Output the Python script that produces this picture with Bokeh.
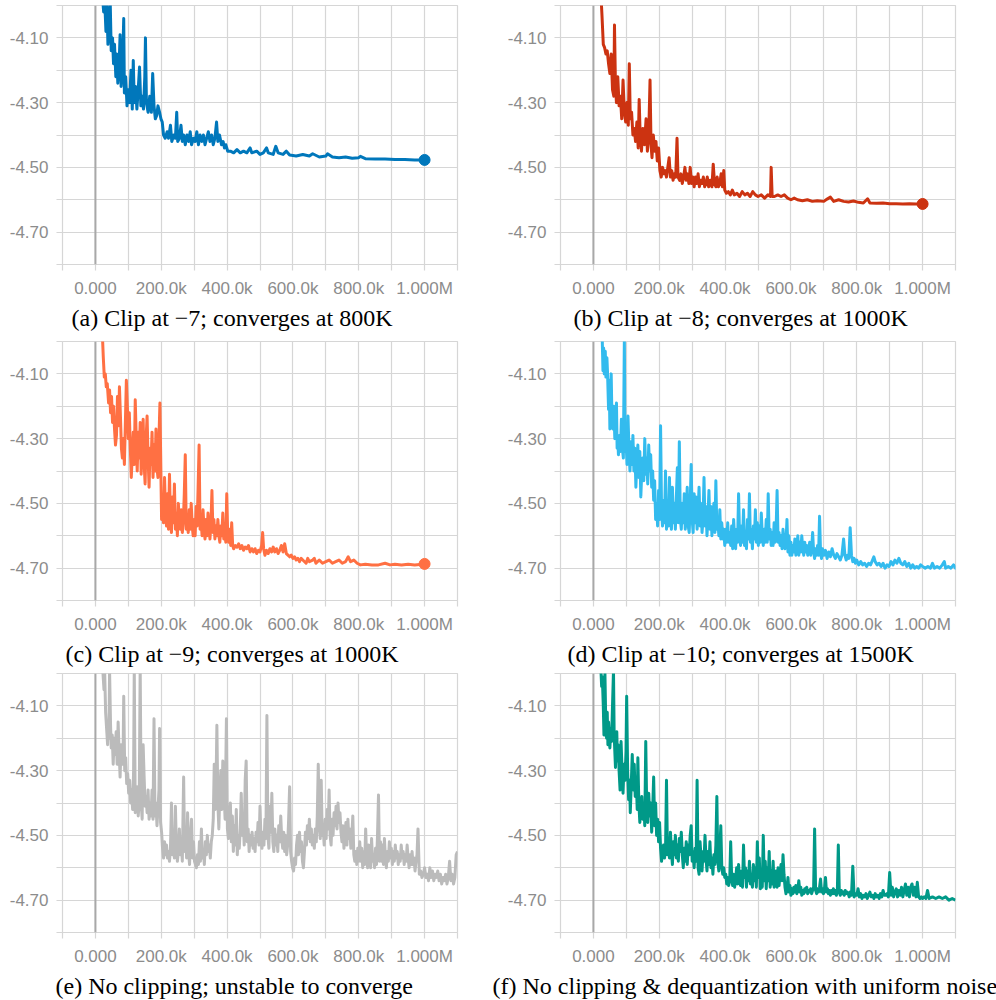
from bokeh.plotting import figure
from bokeh.layouts import gridplot
from bokeh.models import FixedTicker, NumeralTickFormatter, Span, Range1d, Title
from bokeh.embed import file_html
from bokeh.resources import INLINE

# ---------------- data (step in thousands, loss value) ----------------
x_ticks = [0, 200, 400, 600, 800, 1000]
x_tick_labels = ["0.000", "200.0k", "400.0k", "600.0k", "800.0k", "1.000M"]
x_minor_ticks = [-100, 100, 300, 500, 700, 900, 1100]
y_ticks = [-4.1, -4.3, -4.5, -4.7]
y_minor_ticks = [-4.0, -4.2, -4.4, -4.6, -4.8]

captions = [
    "(a) Clip at \u22127; converges at 800K",
    "(b) Clip at \u22128; converges at 1000K",
    "(c) Clip at \u22129; converges at 1000K",
    "(d) Clip at \u221210; converges at 1500K",
    "(e) No clipping; unstable to converge",
    "(f) No clipping & dequantization with uniform noise",
]
colors = ["#0077bb", "#cc3311", "#ff7043", "#33bbee", "#bbbbbb", "#009988"]
end_marker = [True, True, True, False, False, False]

run_a = [
    (20, -3.95), (25, -4.02), (28, -3.98), (32, -4.08), (35, -4.00), (38, -4.12), (42, -4.05),
    (45, -3.99), (48, -4.14), (52, -4.10), (55, -4.18), (58, -4.12), (62, -4.22), (65, -4.15),
    (68, -4.24), (72, -4.18), (75, -4.09), (78, -4.25), (82, -4.20), (86, -4.04), (88, -4.27),
    (92, -4.22), (96, -4.31), (100, -4.26), (104, -4.30), (108, -4.20), (112, -4.32), (115, -4.17),
    (118, -4.30), (122, -4.25), (126, -4.32), (130, -4.26), (134, -4.19), (138, -4.31), (142, -4.28),
    (146, -4.32), (150, -4.22), (152, -4.10), (155, -4.30), (160, -4.33), (165, -4.28), (170, -4.33),
    (174, -4.21), (178, -4.31), (182, -4.35), (186, -4.34), (190, -4.31), (195, -4.33), (199, -4.35),
    (203, -4.36), (207, -4.40), (212, -4.41), (218, -4.39), (222, -4.41), (228, -4.37), (232, -4.42),
    (238, -4.40), (243, -4.41), (247, -4.33), (250, -4.42), (255, -4.41), (260, -4.37), (264, -4.42),
    (268, -4.40), (273, -4.43), (278, -4.40), (283, -4.42), (288, -4.39), (292, -4.43), (298, -4.41),
    (303, -4.42), (308, -4.39), (313, -4.43), (318, -4.40), (323, -4.42), (328, -4.40), (333, -4.43),
    (338, -4.41), (343, -4.39), (348, -4.42), (353, -4.40), (358, -4.43), (363, -4.41), (368, -4.36),
    (372, -4.42), (377, -4.40), (383, -4.43), (388, -4.42), (392, -4.44), (396, -4.43), (402, -4.45),
    (410, -4.45), (420, -4.455), (430, -4.445), (440, -4.455), (450, -4.45), (460, -4.455),
    (470, -4.44), (475, -4.455), (490, -4.45), (500, -4.46), (510, -4.455), (520, -4.44),
    (525, -4.455), (540, -4.46), (548, -4.435), (555, -4.455), (570, -4.46), (580, -4.45),
    (590, -4.462), (610, -4.465), (630, -4.46), (650, -4.465), (660, -4.458), (680, -4.468),
    (700, -4.465), (705, -4.458), (720, -4.468), (740, -4.47), (760, -4.468), (780, -4.472),
    (800, -4.47), (805, -4.466), (820, -4.473), (850, -4.474), (880, -4.474), (910, -4.476),
    (940, -4.476), (970, -4.477), (1000, -4.477),
]

run_b = [
    (22, -3.95), (26, -4.03), (30, -4.12), (34, -4.13), (38, -4.15), (42, -4.14), (46, -4.18),
    (50, -4.21), (54, -4.15), (58, -4.26), (62, -4.28), (64, -4.06), (67, -4.25), (70, -4.30),
    (74, -4.22), (78, -4.31), (82, -4.28), (86, -4.35), (90, -4.23), (94, -4.33), (98, -4.36),
    (102, -4.30), (106, -4.37), (109, -4.18), (112, -4.35), (116, -4.33), (120, -4.40), (124, -4.38),
    (128, -4.42), (132, -4.36), (136, -4.44), (139, -4.29), (142, -4.40), (146, -4.45), (150, -4.38),
    (155, -4.43), (160, -4.35), (164, -4.45), (168, -4.40), (172, -4.23), (175, -4.43), (178, -4.47),
    (182, -4.40), (186, -4.45), (190, -4.42), (194, -4.48), (198, -4.44), (202, -4.51), (206, -4.53),
    (210, -4.50), (214, -4.52), (218, -4.51), (222, -4.53), (226, -4.50), (230, -4.47), (234, -4.53),
    (238, -4.51), (242, -4.54), (246, -4.52), (250, -4.53), (254, -4.41), (257, -4.53), (262, -4.54),
    (266, -4.52), (270, -4.55), (274, -4.53), (278, -4.50), (282, -4.54), (286, -4.52), (290, -4.55),
    (294, -4.50), (298, -4.55), (302, -4.53), (306, -4.56), (310, -4.53), (314, -4.55), (318, -4.52),
    (322, -4.56), (326, -4.54), (330, -4.55), (334, -4.53), (338, -4.56), (342, -4.55), (346, -4.53),
    (350, -4.56), (355, -4.54), (360, -4.56), (364, -4.49), (368, -4.55), (372, -4.56), (376, -4.53),
    (380, -4.56), (384, -4.55), (388, -4.52), (392, -4.56), (396, -4.51), (399, -4.57), (404, -4.58),
    (410, -4.575), (416, -4.585), (422, -4.57), (428, -4.585), (436, -4.58), (444, -4.59),
    (452, -4.575), (460, -4.585), (468, -4.58), (476, -4.59), (484, -4.575), (492, -4.585),
    (500, -4.59), (510, -4.585), (520, -4.595), (530, -4.585), (538, -4.59), (540, -4.50),
    (543, -4.59), (550, -4.59), (560, -4.585), (570, -4.59), (580, -4.585), (590, -4.595),
    (600, -4.60), (610, -4.595), (620, -4.60), (635, -4.603), (650, -4.60), (665, -4.605),
    (680, -4.603), (700, -4.605), (710, -4.598), (720, -4.592), (730, -4.605), (745, -4.60),
    (760, -4.605), (775, -4.607), (790, -4.604), (805, -4.608), (820, -4.61), (833, -4.597),
    (840, -4.61), (860, -4.611), (880, -4.61), (900, -4.612), (920, -4.612), (940, -4.613),
    (960, -4.612), (980, -4.613), (1000, -4.613),
]

run_c = [
    (20, -3.95), (24, -4.05), (27, -4.11), (30, -4.10), (33, -4.14), (36, -4.13), (40, -4.19),
    (43, -4.15), (46, -4.22), (49, -4.17), (52, -4.25), (55, -4.20), (58, -4.27), (61, -4.32),
    (64, -4.29), (67, -4.17), (70, -4.26), (73, -4.14), (76, -4.23), (79, -4.33), (82, -4.36),
    (85, -4.30), (88, -4.38), (91, -4.25), (94, -4.12), (97, -4.20), (100, -4.30), (103, -4.22),
    (106, -4.33), (109, -4.42), (112, -4.35), (115, -4.28), (118, -4.38), (121, -4.18), (124, -4.30),
    (127, -4.40), (130, -4.28), (133, -4.36), (136, -4.25), (139, -4.41), (142, -4.32), (145, -4.24),
    (148, -4.38), (151, -4.44), (154, -4.30), (157, -4.23), (160, -4.36), (163, -4.45), (166, -4.33),
    (169, -4.38), (172, -4.28), (175, -4.42), (178, -4.32), (181, -4.40), (184, -4.27), (187, -4.39),
    (190, -4.42), (193, -4.30), (196, -4.19), (199, -4.41), (201, -4.55), (204, -4.50), (207, -4.56),
    (210, -4.42), (213, -4.53), (216, -4.57), (219, -4.47), (222, -4.58), (225, -4.41), (228, -4.55),
    (231, -4.59), (234, -4.48), (237, -4.56), (240, -4.44), (243, -4.58), (246, -4.53), (249, -4.60),
    (252, -4.50), (255, -4.57), (258, -4.58), (261, -4.52), (264, -4.59), (267, -4.56), (270, -4.47),
    (273, -4.35), (276, -4.58), (279, -4.55), (282, -4.59), (285, -4.52), (288, -4.58), (291, -4.50),
    (294, -4.57), (297, -4.60), (300, -4.55), (303, -4.60), (306, -4.51), (309, -4.57), (312, -4.45),
    (315, -4.32), (318, -4.58), (321, -4.55), (324, -4.60), (327, -4.52), (330, -4.58), (333, -4.61),
    (336, -4.55), (339, -4.60), (342, -4.53), (345, -4.58), (348, -4.61), (351, -4.56), (354, -4.46),
    (357, -4.59), (360, -4.55), (363, -4.61), (366, -4.57), (369, -4.60), (372, -4.55), (375, -4.60),
    (378, -4.62), (381, -4.57), (384, -4.60), (387, -4.53), (390, -4.61), (393, -4.58), (396, -4.62),
    (399, -4.47), (402, -4.60), (405, -4.62), (408, -4.58), (411, -4.63), (414, -4.56), (417, -4.63),
    (420, -4.64), (425, -4.63), (430, -4.635), (435, -4.625), (440, -4.64), (445, -4.63),
    (450, -4.645), (455, -4.635), (460, -4.64), (465, -4.63), (470, -4.65), (475, -4.64),
    (480, -4.65), (485, -4.64), (490, -4.655), (495, -4.645), (500, -4.65), (505, -4.63),
    (508, -4.59), (511, -4.64), (515, -4.66), (520, -4.645), (525, -4.655), (530, -4.64),
    (535, -4.65), (540, -4.635), (545, -4.65), (550, -4.64), (555, -4.655), (560, -4.645),
    (565, -4.63), (570, -4.65), (575, -4.625), (580, -4.655), (585, -4.66), (590, -4.665),
    (595, -4.66), (600, -4.67), (605, -4.665), (610, -4.675), (615, -4.67), (620, -4.68),
    (625, -4.67), (630, -4.675), (640, -4.685), (645, -4.67), (650, -4.68), (660, -4.675),
    (665, -4.67), (670, -4.685), (680, -4.675), (690, -4.685), (700, -4.68), (710, -4.675),
    (720, -4.685), (730, -4.68), (740, -4.675), (750, -4.685), (760, -4.68), (768, -4.665),
    (775, -4.68), (785, -4.675), (795, -4.685), (805, -4.69), (820, -4.688), (840, -4.69),
    (860, -4.69), (880, -4.685), (895, -4.69), (910, -4.688), (930, -4.69), (950, -4.688),
    (970, -4.69), (1000, -4.687),
]

run_d = [
    (25, -3.98), (27, -4.00), (29, -4.09), (31, -4.02), (33, -4.10), (36, -4.03), (38, -4.11),
    (41, -4.05), (43, -4.10), (46, -4.21), (48, -4.12), (50, -4.27), (52, -4.18), (54, -4.10),
    (56, -4.22), (59, -4.27), (62, -4.20), (65, -4.30), (67, -4.26), (70, -4.19), (72, -4.33),
    (74, -4.30), (76, -4.35), (79, -4.29), (82, -4.34), (85, -4.24), (88, -4.33), (91, -4.36),
    (94, -3.99), (96, -4.34), (99, -4.30), (102, -4.38), (105, -4.23), (108, -4.33), (111, -4.40),
    (114, -4.31), (117, -4.38), (120, -4.29), (123, -4.40), (126, -4.33), (129, -4.45), (132, -4.37),
    (135, -4.32), (138, -4.42), (141, -4.34), (144, -4.48), (147, -4.40), (150, -4.36), (153, -4.43),
    (156, -4.30), (159, -4.41), (162, -4.36), (165, -4.44), (168, -4.32), (171, -4.40), (174, -4.35),
    (177, -4.45), (180, -4.40), (183, -4.49), (186, -4.43), (189, -4.55), (192, -4.50), (195, -4.57),
    (198, -4.46), (201, -4.55), (204, -4.26), (207, -4.52), (210, -4.57), (213, -4.49), (216, -4.56),
    (219, -4.40), (222, -4.58), (225, -4.52), (228, -4.57), (231, -4.42), (234, -4.55), (237, -4.58),
    (240, -4.45), (243, -4.56), (246, -4.50), (249, -4.58), (252, -4.48), (255, -4.39), (258, -4.56),
    (261, -4.31), (264, -4.55), (267, -4.58), (270, -4.50), (273, -4.56), (276, -4.47), (279, -4.58),
    (282, -4.53), (285, -4.45), (288, -4.57), (291, -4.59), (294, -4.50), (297, -4.38), (300, -4.55),
    (303, -4.59), (306, -4.47), (309, -4.56), (312, -4.48), (315, -4.58), (318, -4.52), (321, -4.45),
    (324, -4.57), (327, -4.50), (330, -4.59), (333, -4.55), (336, -4.42), (339, -4.57), (342, -4.51),
    (345, -4.60), (348, -4.54), (351, -4.46), (354, -4.58), (357, -4.51), (360, -4.60), (363, -4.54),
    (366, -4.50), (369, -4.59), (372, -4.43), (375, -4.58), (378, -4.55), (381, -4.60), (384, -4.52),
    (387, -4.61), (390, -4.56), (393, -4.61), (396, -4.58), (399, -4.63), (402, -4.58), (405, -4.62),
    (408, -4.56), (411, -4.62), (414, -4.59), (417, -4.63), (420, -4.57), (423, -4.64), (426, -4.55),
    (429, -4.61), (432, -4.64), (435, -4.58), (438, -4.62), (441, -4.47), (444, -4.60), (447, -4.63),
    (450, -4.57), (453, -4.62), (456, -4.52), (459, -4.63), (462, -4.60), (465, -4.64), (468, -4.55),
    (471, -4.61), (474, -4.47), (477, -4.62), (480, -4.58), (483, -4.64), (486, -4.57), (489, -4.61),
    (492, -4.52), (495, -4.62), (498, -4.56), (501, -4.63), (504, -4.57), (507, -4.62), (510, -4.53),
    (513, -4.60), (516, -4.63), (519, -4.58), (522, -4.62), (525, -4.55), (528, -4.62), (531, -4.47),
    (534, -4.61), (537, -4.58), (540, -4.63), (543, -4.59), (546, -4.63), (549, -4.56), (552, -4.62),
    (555, -4.58), (558, -4.46), (561, -4.62), (564, -4.59), (567, -4.63), (570, -4.60), (573, -4.64),
    (576, -4.58), (579, -4.62), (582, -4.64), (585, -4.62), (588, -4.55), (591, -4.65), (594, -4.60),
    (597, -4.66), (600, -4.62), (603, -4.66), (606, -4.63), (609, -4.65), (612, -4.61), (615, -4.66),
    (618, -4.63), (621, -4.60), (624, -4.66), (627, -4.62), (630, -4.65), (633, -4.60), (636, -4.64),
    (639, -4.66), (642, -4.62), (645, -4.65), (648, -4.63), (651, -4.66), (654, -4.64), (657, -4.62),
    (660, -4.66), (663, -4.64), (666, -4.59), (669, -4.65), (672, -4.67), (675, -4.64), (678, -4.66),
    (681, -4.63), (684, -4.66), (687, -4.54), (690, -4.65), (693, -4.67), (696, -4.64), (700, -4.66),
    (705, -4.645), (710, -4.67), (715, -4.65), (720, -4.665), (725, -4.64), (730, -4.66),
    (735, -4.67), (740, -4.655), (745, -4.665), (750, -4.675), (755, -4.66), (760, -4.61),
    (764, -4.66), (768, -4.675), (772, -4.66), (776, -4.67), (780, -4.575), (784, -4.66),
    (788, -4.68), (792, -4.67), (796, -4.685), (800, -4.675), (806, -4.69), (812, -4.68),
    (818, -4.69), (824, -4.685), (830, -4.695), (836, -4.685), (842, -4.69), (848, -4.675),
    (852, -4.665), (856, -4.68), (862, -4.69), (868, -4.685), (874, -4.695), (880, -4.685),
    (886, -4.70), (892, -4.69), (898, -4.695), (904, -4.68), (910, -4.69), (916, -4.675),
    (922, -4.685), (928, -4.67), (934, -4.685), (940, -4.69), (946, -4.68), (952, -4.695),
    (958, -4.685), (964, -4.70), (970, -4.69), (976, -4.70), (982, -4.695), (988, -4.70),
    (994, -4.69), (1000, -4.695), (1008, -4.70), (1016, -4.695), (1024, -4.70), (1030, -4.685),
    (1036, -4.70), (1044, -4.695), (1052, -4.70), (1060, -4.69), (1066, -4.68), (1070, -4.70),
    (1078, -4.695), (1086, -4.70), (1094, -4.69), (1100, -4.70), (1105, -4.695),
]

run_e = [
    (20, -3.95), (23, -4.00), (26, -4.05), (28, -3.99), (31, -4.12), (34, -4.17), (37, -4.22),
    (39, -4.15), (41, -4.20), (43, -3.99), (46, -4.16), (48, -4.23), (51, -4.19), (54, -4.28),
    (57, -4.20), (60, -4.25), (63, -4.18), (66, -4.28), (69, -4.15), (72, -4.24), (75, -4.32),
    (78, -4.22), (81, -4.28), (84, -4.25), (86, -4.07), (89, -4.30), (92, -4.26), (95, -4.34),
    (98, -4.31), (101, -4.37), (104, -4.33), (107, -4.40), (110, -4.36), (113, -4.42), (116, -4.30),
    (118, -3.98), (121, -4.43), (124, -4.40), (127, -4.35), (130, -4.44), (133, -4.40), (136, -3.98),
    (139, -4.40), (142, -4.45), (145, -4.22), (148, -4.32), (151, -4.41), (154, -4.38), (157, -4.43),
    (160, -4.36), (163, -4.45), (166, -4.40), (169, -4.44), (172, -4.36), (175, -4.45), (178, -4.14),
    (181, -4.44), (184, -4.40), (187, -4.47), (190, -4.42), (193, -4.36), (195, -4.17), (198, -4.46),
    (201, -4.49), (204, -4.54), (207, -4.57), (210, -4.52), (213, -4.56), (216, -4.53), (219, -4.57),
    (222, -4.55), (225, -4.58), (228, -4.54), (231, -4.40), (234, -4.56), (237, -4.53), (240, -4.57),
    (243, -4.41), (246, -4.54), (249, -4.58), (252, -4.55), (255, -4.48), (258, -4.56), (261, -4.52),
    (264, -4.58), (268, -4.32), (271, -4.55), (274, -4.49), (277, -4.57), (280, -4.43), (283, -4.55),
    (286, -4.59), (289, -4.50), (292, -4.45), (295, -4.57), (298, -4.52), (301, -4.58), (304, -4.59),
    (307, -4.60), (310, -4.56), (313, -4.59), (316, -4.52), (319, -4.58), (322, -4.48), (325, -4.57),
    (328, -4.55), (331, -4.59), (334, -4.52), (337, -4.56), (340, -4.50), (343, -4.55), (346, -4.53),
    (349, -4.57), (352, -4.52), (355, -4.50), (358, -4.45), (361, -4.28), (364, -4.42), (366, -4.38),
    (369, -4.16), (372, -4.40), (375, -4.48), (378, -4.36), (381, -4.30), (384, -4.42), (387, -4.27),
    (390, -4.35), (394, -4.45), (398, -4.14), (401, -4.48), (404, -4.51), (407, -4.46), (410, -4.40),
    (413, -4.52), (416, -4.44), (419, -4.55), (422, -4.47), (425, -4.53), (428, -4.42), (431, -4.56),
    (434, -4.50), (437, -4.54), (440, -4.48), (443, -4.37), (446, -4.50), (449, -4.45), (452, -4.53),
    (455, -4.33), (458, -4.27), (461, -4.52), (464, -4.48), (467, -4.55), (470, -4.50), (473, -4.53),
    (476, -4.49), (479, -4.54), (482, -4.51), (485, -4.55), (488, -4.49), (491, -4.52), (494, -4.46),
    (497, -4.53), (500, -4.41), (503, -4.51), (506, -4.54), (509, -4.49), (512, -4.53), (515, -4.45),
    (518, -4.51), (521, -4.13), (524, -4.50), (527, -4.54), (530, -4.41), (533, -4.49), (536, -4.37),
    (539, -4.52), (542, -4.55), (545, -4.48), (548, -4.53), (551, -4.50), (554, -4.55), (557, -4.47),
    (560, -4.52), (563, -4.44), (566, -4.51), (569, -4.54), (572, -4.49), (575, -4.55), (578, -4.50),
    (581, -4.56), (584, -4.53), (587, -4.45), (590, -4.35), (593, -4.55), (596, -4.58), (599, -4.60),
    (602, -4.61), (605, -4.57), (608, -4.59), (611, -4.53), (614, -4.50), (617, -4.56), (620, -4.49),
    (623, -4.55), (626, -4.52), (629, -4.58), (632, -4.60), (635, -4.55), (638, -4.49), (641, -4.53),
    (644, -4.47), (647, -4.51), (650, -4.45), (653, -4.52), (656, -4.48), (659, -4.53), (662, -4.50),
    (665, -4.54), (668, -4.48), (671, -4.52), (674, -4.44), (677, -4.28), (680, -4.47), (683, -4.51),
    (686, -4.33), (689, -4.50), (692, -4.48), (695, -4.53), (698, -4.45), (701, -4.51), (704, -4.42),
    (707, -4.48), (710, -4.36), (713, -4.50), (716, -4.53), (719, -4.45), (722, -4.50), (725, -4.43),
    (728, -4.47), (731, -4.41), (734, -4.48), (737, -4.40), (740, -4.46), (743, -4.43), (746, -4.49),
    (749, -4.52), (752, -4.47), (755, -4.54), (758, -4.50), (761, -4.46), (764, -4.53), (767, -4.45),
    (770, -4.51), (773, -4.48), (776, -4.54), (779, -4.50), (782, -4.44), (785, -4.56), (788, -4.58),
    (791, -4.55), (794, -4.59), (797, -4.54), (800, -4.58), (803, -4.52), (806, -4.58), (809, -4.54),
    (812, -4.60), (815, -4.55), (818, -4.59), (821, -4.48), (824, -4.57), (827, -4.60), (830, -4.53),
    (833, -4.58), (836, -4.60), (839, -4.51), (842, -4.58), (845, -4.56), (848, -4.60), (851, -4.54),
    (854, -4.59), (857, -4.50), (860, -4.375), (863, -4.58), (866, -4.52), (869, -4.58), (872, -4.53),
    (875, -4.59), (878, -4.51), (881, -4.57), (884, -4.60), (887, -4.55), (890, -4.58), (893, -4.52),
    (896, -4.57), (899, -4.54), (902, -4.59), (905, -4.55), (908, -4.58), (911, -4.53), (914, -4.57),
    (917, -4.55), (920, -4.59), (923, -4.56), (926, -4.58), (929, -4.53), (932, -4.57), (935, -4.55),
    (938, -4.59), (941, -4.56), (944, -4.58), (947, -4.53), (950, -4.57), (953, -4.60), (956, -4.56),
    (959, -4.59), (962, -4.55), (965, -4.59), (968, -4.57), (971, -4.61), (974, -4.58), (977, -4.56),
    (980, -4.48), (984, -4.62), (988, -4.61), (992, -4.63), (996, -4.62), (1000, -4.60),
    (1004, -4.63), (1008, -4.62), (1012, -4.64), (1016, -4.60), (1020, -4.63), (1024, -4.61),
    (1028, -4.64), (1032, -4.62), (1036, -4.63), (1040, -4.61), (1044, -4.64), (1048, -4.62),
    (1052, -4.65), (1056, -4.63), (1060, -4.64), (1064, -4.62), (1068, -4.65), (1072, -4.63),
    (1076, -4.58), (1080, -4.64), (1084, -4.62), (1088, -4.65), (1092, -4.63), (1096, -4.56),
    (1100, -4.55),
]

run_f = [
    (22, -3.97), (25, -4.04), (27, -4.01), (30, -4.10), (32, -4.19), (35, -4.00), (37, -4.12),
    (40, -4.20), (42, -4.12), (44, -4.22), (46, -4.15), (48, -4.19), (50, -4.23), (53, -4.17),
    (55, -4.21), (58, -4.10), (61, -3.99), (63, -4.19), (65, -4.24), (67, -4.29), (69, -4.20),
    (71, -4.18), (73, -4.27), (75, -4.22), (78, -4.30), (81, -4.36), (84, -4.21), (87, -4.30),
    (90, -4.37), (93, -4.28), (96, -4.33), (99, -4.24), (101, -4.07), (104, -4.30), (107, -4.39),
    (110, -4.33), (112, -4.43), (115, -4.34), (118, -4.25), (121, -4.36), (124, -4.28), (127, -4.38),
    (130, -4.32), (133, -4.42), (135, -4.26), (138, -4.40), (141, -4.46), (144, -4.41), (147, -4.38),
    (150, -4.45), (153, -4.40), (156, -4.47), (159, -4.21), (162, -4.42), (165, -4.46), (168, -4.37),
    (171, -4.44), (174, -4.40), (177, -4.49), (180, -4.42), (183, -4.32), (186, -4.47), (189, -4.40),
    (192, -4.50), (195, -4.45), (198, -4.52), (201, -4.46), (204, -4.54), (207, -4.58), (210, -4.55),
    (213, -4.53), (216, -4.57), (219, -4.55), (222, -4.33), (225, -4.56), (228, -4.51), (231, -4.57),
    (234, -4.49), (237, -4.55), (240, -4.59), (243, -4.52), (246, -4.56), (249, -4.50), (252, -4.57),
    (255, -4.53), (258, -4.58), (261, -4.51), (264, -4.55), (267, -4.49), (270, -4.56), (273, -4.60),
    (276, -4.54), (279, -4.58), (282, -4.52), (285, -4.59), (288, -4.53), (291, -4.56), (294, -4.50),
    (297, -4.47), (300, -4.58), (303, -4.55), (306, -4.60), (309, -4.54), (312, -4.58), (315, -4.33),
    (318, -4.60), (321, -4.62), (324, -4.52), (327, -4.57), (330, -4.61), (333, -4.55), (336, -4.58),
    (339, -4.50), (342, -4.57), (345, -4.61), (348, -4.55), (351, -4.59), (354, -4.52), (357, -4.60),
    (360, -4.57), (363, -4.62), (366, -4.56), (369, -4.59), (372, -4.53), (375, -4.38), (378, -4.58),
    (381, -4.61), (384, -4.55), (387, -4.47), (390, -4.60), (393, -4.62), (396, -4.60), (399, -4.63),
    (402, -4.62), (405, -4.65), (408, -4.63), (411, -4.655), (414, -4.64), (417, -4.52), (420, -4.63),
    (423, -4.655), (426, -4.62), (429, -4.66), (432, -4.64), (435, -4.60), (438, -4.65), (441, -4.59),
    (444, -4.64), (447, -4.655), (450, -4.61), (453, -4.66), (456, -4.53), (459, -4.63), (462, -4.60),
    (465, -4.66), (468, -4.61), (471, -4.64), (474, -4.58), (477, -4.65), (480, -4.62), (483, -4.66),
    (486, -4.59), (489, -4.64), (492, -4.60), (495, -4.66), (498, -4.52), (501, -4.63), (504, -4.57),
    (507, -4.665), (510, -4.62), (513, -4.66), (516, -4.50), (519, -4.64), (522, -4.58), (525, -4.665),
    (528, -4.60), (531, -4.64), (534, -4.55), (537, -4.66), (540, -4.61), (543, -4.65), (546, -4.58),
    (549, -4.66), (552, -4.63), (555, -4.61), (558, -4.66), (561, -4.60), (564, -4.655), (567, -4.62),
    (570, -4.59), (573, -4.64), (576, -4.56), (579, -4.62), (582, -4.66), (585, -4.68), (588, -4.665),
    (591, -4.63), (594, -4.675), (597, -4.655), (600, -4.685), (603, -4.665), (606, -4.68),
    (609, -4.66), (612, -4.675), (615, -4.655), (618, -4.68), (621, -4.665), (624, -4.64),
    (627, -4.675), (630, -4.66), (633, -4.685), (636, -4.67), (639, -4.68), (642, -4.665),
    (645, -4.675), (648, -4.66), (651, -4.68), (654, -4.67), (657, -4.675), (660, -4.665),
    (663, -4.68), (666, -4.67), (669, -4.66), (672, -4.48), (675, -4.67), (678, -4.68),
    (681, -4.665), (684, -4.675), (687, -4.66), (690, -4.635), (693, -4.675), (696, -4.665),
    (699, -4.68), (702, -4.665), (705, -4.63), (708, -4.675), (711, -4.665), (714, -4.68),
    (717, -4.67), (720, -4.685), (723, -4.67), (726, -4.68), (729, -4.665), (732, -4.68),
    (735, -4.67), (738, -4.685), (741, -4.675), (744, -4.53), (747, -4.675), (750, -4.685),
    (753, -4.67), (756, -4.68), (759, -4.675), (762, -4.685), (765, -4.67), (768, -4.68),
    (771, -4.675), (774, -4.68), (777, -4.69), (780, -4.675), (784, -4.685), (788, -4.595),
    (792, -4.69), (796, -4.68), (800, -4.685), (804, -4.665), (808, -4.69), (812, -4.68),
    (816, -4.695), (820, -4.685), (824, -4.69), (828, -4.68), (832, -4.695), (836, -4.685),
    (840, -4.675), (844, -4.69), (848, -4.685), (852, -4.695), (856, -4.68), (860, -4.69),
    (864, -4.685), (868, -4.695), (872, -4.68), (876, -4.69), (880, -4.67), (884, -4.685),
    (888, -4.685), (892, -4.68), (896, -4.69), (900, -4.615), (904, -4.685), (908, -4.66),
    (912, -4.69), (916, -4.675), (920, -4.665), (924, -4.69), (928, -4.67), (932, -4.685),
    (936, -4.66), (940, -4.69), (944, -4.67), (948, -4.65), (952, -4.685), (956, -4.66),
    (960, -4.69), (964, -4.66), (968, -4.65), (972, -4.685), (976, -4.66), (980, -4.69),
    (984, -4.645), (988, -4.69), (992, -4.695), (996, -4.69), (1000, -4.695), (1005, -4.69),
    (1010, -4.695), (1015, -4.67), (1020, -4.695), (1030, -4.69), (1040, -4.695), (1050, -4.69),
    (1060, -4.695), (1070, -4.69), (1080, -4.70), (1090, -4.695), (1100, -4.70),
]

runs = [run_a, run_b, run_c, run_d, run_e, run_f]

# ---------------- styling ----------------
GRID = "#d6d6d6"
ZERO = "#a8a8a8"
LABEL = "#8c8c8c"
FRAME_H = 259
FRAME_W = 395
ROW_H = [336, 332, 332]
# caption left offset relative to frame left edge (px)
CAP_OFFSET = [9, 13, 3, 7, -7, -68]


def make_panel(idx):
    left_col = idx % 2 == 0
    row_i = idx // 2
    width = 490 if left_col else 506
    mbl = 62 if left_col else 70
    mbr = width - mbl - FRAME_W
    height = ROW_H[row_i]
    p = figure(width=width, height=height,
               x_range=Range1d(-100, 1100), y_range=Range1d(-4.8, -4.0),
               output_backend="svg", toolbar_location=None, tools="",
               min_border_left=mbl, min_border_right=mbr,
               min_border_top=5, min_border_bottom=height - 5 - FRAME_H)
    p.background_fill_color = "white"
    p.border_fill_color = "white"
    p.outline_line_color = GRID
    p.outline_line_width = 1.2

    p.xaxis.ticker = FixedTicker(ticks=x_ticks, minor_ticks=x_minor_ticks)
    p.yaxis.ticker = FixedTicker(ticks=y_ticks, minor_ticks=y_minor_ticks)
    p.xaxis.major_label_overrides = dict(zip(x_ticks, x_tick_labels))
    p.yaxis.formatter = NumeralTickFormatter(format="0.00")
    for ax in (p.xaxis, p.yaxis):
        ax.axis_line_color = None
        ax.major_tick_line_color = GRID
        ax.minor_tick_line_color = GRID
        ax.major_tick_line_width = 1.2
        ax.minor_tick_line_width = 1.2
        ax.major_tick_in = 0
        ax.minor_tick_in = 0
        ax.major_tick_out = 6
        ax.minor_tick_out = 6
        ax.major_label_text_font = "Liberation Sans"
        ax.major_label_text_font_size = "17px"
        ax.major_label_text_color = LABEL
        ax.major_label_standoff = 8
    for g in (p.xgrid, p.ygrid):
        g.grid_line_color = GRID
        g.grid_line_width = 1.2
        g.minor_grid_line_color = GRID
        g.minor_grid_line_width = 1.2

    p.add_layout(Span(location=0, dimension="height", line_color=ZERO, line_width=2))

    steps, vals = zip(*runs[idx])
    p.line(list(steps), list(vals), line_color=colors[idx], line_width=3, line_join="round")
    if end_marker[idx]:
        p.scatter([steps[-1]], [vals[-1]], size=11, fill_color=colors[idx], line_color=colors[idx])

    cap = Title(text=captions[idx], align="left", offset=CAP_OFFSET[idx],
                text_font="Liberation Serif", text_font_size="24px",
                text_font_style="normal", text_color="black", standoff=4)
    p.add_layout(cap, "below")
    return p


panels = [make_panel(i) for i in range(6)]
grid = gridplot([[panels[0], panels[1]], [panels[2], panels[3]], [panels[4], panels[5]]],
                toolbar_location=None)

open("out.html", "w").write(file_html(grid, INLINE))
